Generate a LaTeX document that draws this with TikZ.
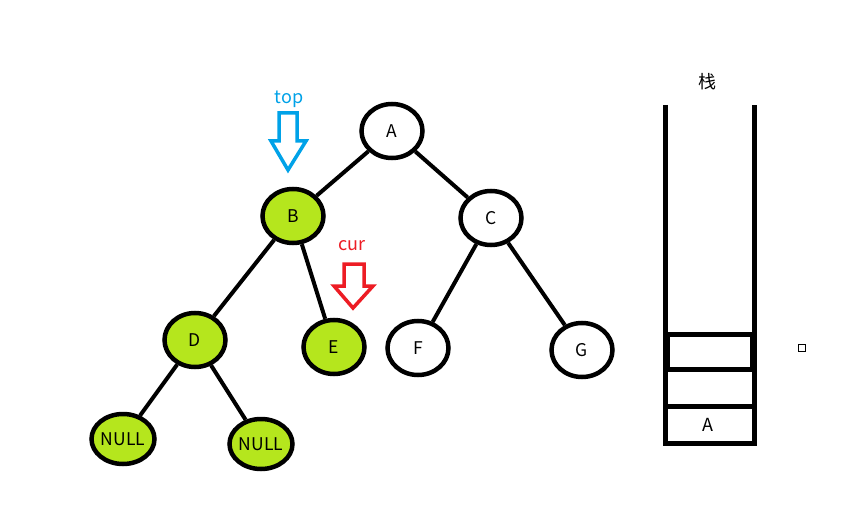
\documentclass[tikz,border=0pt]{standalone}
\usepackage{fontspec}
\setmainfont{Noto Sans CJK SC}
\usetikzlibrary{shapes.geometric}
\definecolor{pgreen}{HTML}{B5E61D}
\definecolor{pblue}{HTML}{00A2E8}
\definecolor{pred}{HTML}{ED1C24}
\tikzset{
  tn/.style={ellipse, draw=black, line width=4.5pt, fill=white, inner sep=0pt,
    minimum width=61pt, minimum height=54pt, font=\fontsize{17.5}{19}\selectfont},
  gn/.style={tn, fill=pgreen},
  nulln/.style={gn, minimum width=63pt, minimum height=50pt},
  edge/.style={line width=4pt, black},
  wall/.style={line width=5pt, black},
  hollowarrow/.style={line width=3.5pt, fill=white, line join=miter},
  lbl/.style={font=\fontsize{18}{20}\selectfont, inner sep=0pt}
}
\begin{document}
\begin{tikzpicture}[x=1pt,y=-1pt]
\useasboundingbox[fill=white] (0,0) rectangle (841,508);
% tree nodes
\node[tn] (A) at (392,131) {A};
\node[gn] (B) at (293,216) {B};
\node[tn] (C) at (491,218) {C};
\node[gn] (D) at (195,340) {D};
\node[gn] (E) at (334,347) {E};
\node[tn] (F) at (418,348) {F};
\node[tn] (G) at (582,350) {G};
\node[nulln] (N1) at (123,439) {NULL};
\node[nulln] (N2) at (261,444) {NULL};
% edges
\draw[edge] (A) -- (B);
\draw[edge] (A) -- (C);
\draw[edge] (B) -- (D);
\draw[edge] (B) -- (E);
\draw[edge] (C) -- (F);
\draw[edge] (C) -- (G);
\draw[edge] (D) -- (N1);
\draw[edge] (D) -- (N2);
% top arrow
\node[lbl, text=pblue] (toplbl) at (289,99) {top};
\draw[hollowarrow, draw=pblue] (279,113) -- (297,113) -- (297,141) -- (306,141) -- (288,170) -- (271,141) -- (279,141) -- cycle;
% cur arrow
\node[lbl, text=pred] (curlbl) at (352,246) {cur};
\draw[hollowarrow, draw=pred] (344,264) -- (364,264) -- (364,286) -- (373,286) -- (353,308) -- (334,286) -- (344,286) -- cycle;
% stack
\node[font=\fontsize{18}{20}\selectfont, inner sep=0pt] (stk) at (707,82) {栈};
\draw[wall] (665.5,105) -- (665.5,443) -- (754.5,443) -- (754.5,105);
\draw[line width=4.5pt] (668,334.5) rectangle (752,369.5);
\draw[wall] (665.5,406) -- (754.5,406);
\node[lbl] (sa) at (708,425) {A};
% small square
\draw[line width=1.2pt] (798.5,344.5) rectangle (805.5,351.5);
\end{tikzpicture}
\end{document}
